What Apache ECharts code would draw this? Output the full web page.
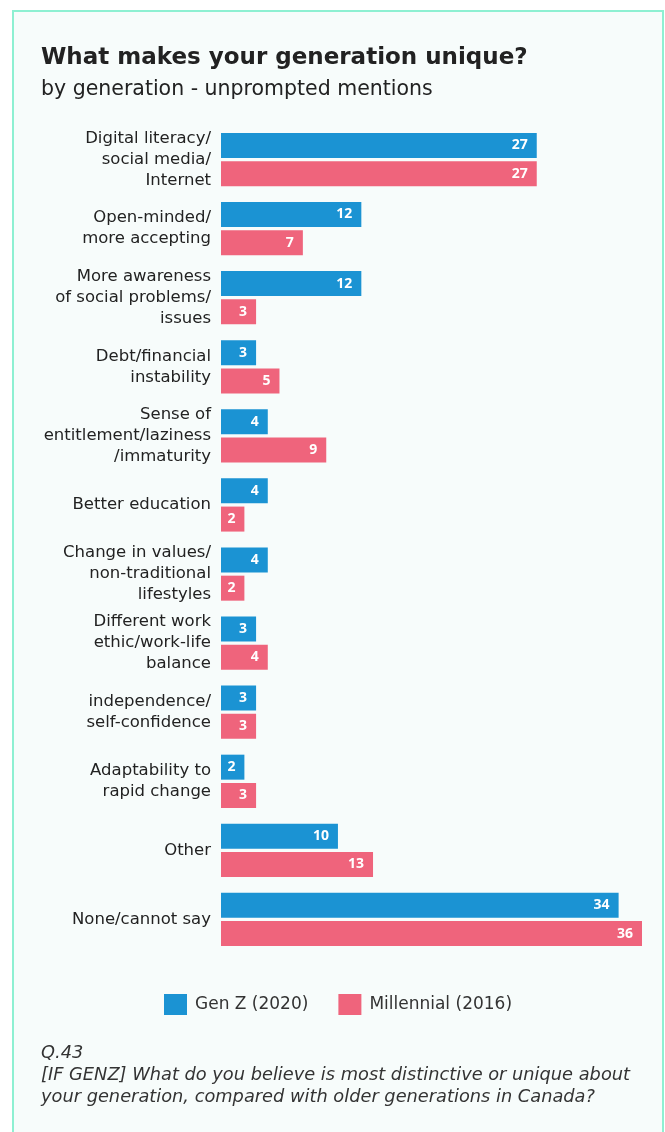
<!DOCTYPE html>
<html>
<head>
<meta charset="utf-8">
<script src="https://cdn.jsdelivr.net/npm/echarts@6/dist/echarts.min.js"></script>
<style>
  body { margin: 0; background: #fff; }
  #card {
    position: absolute; left: 12px; top: 10px; width: 648px; height: 1130px;
    border: 2px solid #8ef0d2; background: #f7fcfb;
  }
  #main { position: absolute; left: 0; top: 0; width: 665px; height: 1132px; }
</style>
</head>
<body>
<div id="card"></div>
<div id="main"></div>
<script>
const categories = [
  'Digital literacy/\nsocial media/\nInternet',
  'Open-minded/\nmore accepting',
  'More awareness\nof social problems/\nissues',
  'Debt/financial\ninstability',
  'Sense of\nentitlement/laziness\n/immaturity',
  'Better education',
  'Change in values/\nnon-traditional\nlifestyles',
  'Different work\nethic/work-life\nbalance',
  'independence/\nself-confidence',
  'Adaptability to\nrapid change',
  'Other',
  'None/cannot say'
]
const genZ = [27, 12, 12, 3, 4, 4, 4, 3, 3, 2, 10, 34]
const millennial = [27, 7, 3, 5, 9, 2, 2, 4, 3, 3, 13, 36]
const seriesNames = ['Gen Z (2020)', 'Millennial (2016)']

const font = '"DejaVu Sans", sans-serif'
const barLabel = {
  show: true,
  position: 'insideRight',
  distance: 9,
  color: '#fff',
  fontWeight: 'bold',
  fontSize: 14,
  fontFamily: '"Noto Sans", sans-serif'
}

const option = {
  animation: false,
  textStyle: { fontFamily: font },
  title: [
    {
      text: 'What makes your generation unique?',
      left: 36, top: 42,
      textStyle: { fontSize: 23, fontWeight: 'bold', color: '#222', fontFamily: font }
    },
    {
      text: 'by generation - unprompted mentions',
      left: 36, top: 74,
      textStyle: { fontSize: 20.5, fontWeight: 'normal', color: '#222', fontFamily: font }
    },
    {
      text: 'Q.43\n[IF GENZ] What do you believe is most distinctive or unique about\nyour generation, compared with older generations in Canada?',
      left: 36, top: 1037,
      textStyle: { fontSize: 17.8, fontWeight: 'normal', fontStyle: 'italic', color: '#333', lineHeight: 22, fontFamily: font }
    }
  ],
  legend: {
    data: seriesNames,
    left: 159, top: 989,
    icon: 'rect',
    itemWidth: 23, itemHeight: 21,
    itemGap: 30,
    textStyle: { fontSize: 17, color: '#333', fontFamily: font, padding: [0, 0, 0, 3] }
  },
  grid: { left: 221, top: 125, width: 421, height: 829 },
  xAxis: {
    type: 'value', min: 0, max: 36, show: false
  },
  yAxis: {
    type: 'category',
    inverse: true,
    data: categories,
    axisLine: { show: false },
    axisTick: { show: false },
    axisLabel: {
      margin: 10, fontSize: 16.5, lineHeight: 21, color: '#222', fontFamily: font, align: 'right'
    }
  },
  series: [
    {
      name: seriesNames[0], type: 'bar', data: genZ,
      barWidth: 25, barGap: '13%',
      itemStyle: { color: '#1b93d3' },
      label: barLabel
    },
    {
      name: seriesNames[1], type: 'bar', data: millennial,
      barWidth: 25,
      itemStyle: { color: '#ef647c' },
      label: barLabel
    }
  ]
}

const chart = echarts.init(document.getElementById('main'))
chart.setOption(option)
</script>
</body>
</html>
